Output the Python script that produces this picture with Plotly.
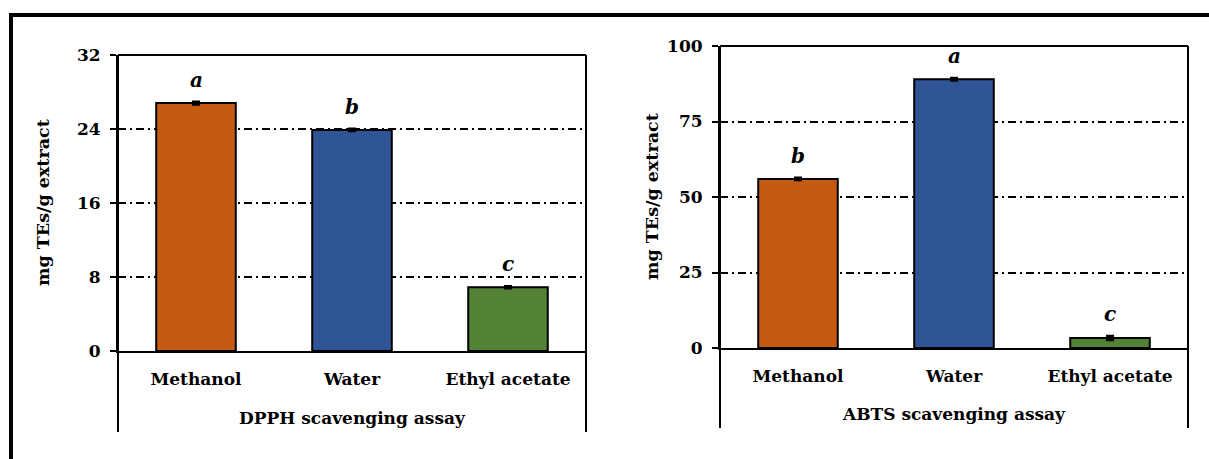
import plotly.graph_objects as go

# Extract categories and measured antioxidant capacity (mg TEs/g extract)
categories = ["Methanol", "Water", "Ethyl acetate"]
bar_colors = ["#C55A11", "#2F5597", "#548235"]

dpph_values = [26.8, 23.9, 6.9]
dpph_errors = [0.12, 0.1, 0.08]
dpph_letters = ["a", "b", "c"]
dpph_ticks = [0, 8, 16, 24, 32]

abts_values = [56.0, 89.0, 3.3]
abts_errors = [0.3, 0.3, 0.6]
abts_letters = ["b", "a", "c"]
abts_ticks = [0, 25, 50, 75, 100]

W, H = 1209, 459
FONT = "DejaVu Serif"


def px(x):
    return x / W


def py(y):
    return 1 - y / H


fig = go.Figure()

panels = [
    # (values, errors, letters, ticks, xref, yref, left, right, top, zero, bottom, title, y-title x)
    (dpph_values, dpph_errors, dpph_letters, dpph_ticks, "x", "y",
     118, 586, 55, 351, 432, "DPPH scavenging assay", 43),
    (abts_values, abts_errors, abts_letters, abts_ticks, "x2", "y2",
     720, 1188, 46, 348, 428, "ABTS scavenging assay", 652),
]

shapes = []
annotations = []
for (vals, errs, letters, ticks, xr, yr, left, right, top, zero, bottom,
     title, ytitle_x) in panels:
    fig.add_trace(go.Bar(
        x=categories, y=vals, xaxis=xr, yaxis=yr,
        marker=dict(color=bar_colors, line=dict(color="black", width=2)),
        error_y=dict(type="data", array=errs, visible=True,
                     color="black", thickness=3, width=4),
        showlegend=False, hoverinfo="skip",
    ))
    # significance letters above each bar
    for cat, v, e, lt in zip(categories, vals, errs, letters):
        annotations.append(dict(
            x=cat, y=v + e, xref=xr, yref=yr, text=f"<i>{lt}</i>",
            showarrow=False, yanchor="bottom", yshift=8,
            font=dict(family=FONT, size=20, color="black", weight="bold"),
        ))
    # frame: top edge and the two verticals running down past the labels
    shapes.append(dict(type="line", xref="paper", yref="paper",
                       x0=px(left), x1=px(right), y0=py(top), y1=py(top),
                       line=dict(color="black", width=2)))
    for xx in (left, right):
        shapes.append(dict(type="line", xref="paper", yref="paper",
                           x0=px(xx), x1=px(xx), y0=py(top), y1=py(bottom),
                           line=dict(color="black", width=2)))
    annotations.append(dict(
        x=px((left + right) / 2), y=py(bottom - 14), xref="paper", yref="paper",
        text=title, showarrow=False, xanchor="center", yanchor="middle",
        font=dict(family=FONT, size=17, color="black", weight="bold"),
    ))
    annotations.append(dict(
        x=px(ytitle_x), y=py((top + zero) / 2), xref="paper", yref="paper",
        text="mg TEs/g extract", showarrow=False, textangle=-90,
        xanchor="center", yanchor="middle",
        font=dict(family=FONT, size=17.5, color="black", weight="bold"),
    ))

# outer border lines (top and left)
shapes.append(dict(type="line", xref="paper", yref="paper",
                   x0=px(9), x1=1, y0=py(15), y1=py(15),
                   line=dict(color="black", width=4)))
shapes.append(dict(type="line", xref="paper", yref="paper",
                   x0=px(11), x1=px(11), y0=py(13), y1=0,
                   line=dict(color="black", width=4)))

axis_font = dict(family=FONT, size=17, color="black", weight="bold")
xaxis_common = dict(
    type="category", showgrid=False, showline=True, linecolor="black",
    linewidth=2, ticks="outside", ticklen=0, ticklabelstandoff=12,
    tickfont=axis_font, fixedrange=True, zeroline=False, automargin=False,
)


def yaxis_cfg(ticks):
    return dict(
        range=[ticks[0], ticks[-1]], tickvals=ticks,
        showgrid=True, gridcolor="black", gridwidth=1.5,
        griddash="8px,4px,2px,4px",
        showline=True, linecolor="black", linewidth=2,
        ticks="outside", ticklen=6, tickwidth=2, tickcolor="black",
        tickfont=axis_font, zeroline=False, fixedrange=True,
        ticklabelstandoff=6, automargin=False,
    )


fig.update_layout(
    template="none",
    width=W, height=H,
    margin=dict(l=0, r=0, t=0, b=0, autoexpand=False),
    paper_bgcolor="white", plot_bgcolor="white",
    bargap=0.49,
    xaxis=dict(domain=[px(118), px(586)], anchor="y", **xaxis_common),
    yaxis=dict(domain=[py(351), py(55)], anchor="x", **yaxis_cfg(dpph_ticks)),
    xaxis2=dict(domain=[px(720), px(1188)], anchor="y2", **xaxis_common),
    yaxis2=dict(domain=[py(348), py(46)], anchor="x2", **yaxis_cfg(abts_ticks)),
    shapes=shapes,
    annotations=annotations,
)

fig.write_html("out.html")
